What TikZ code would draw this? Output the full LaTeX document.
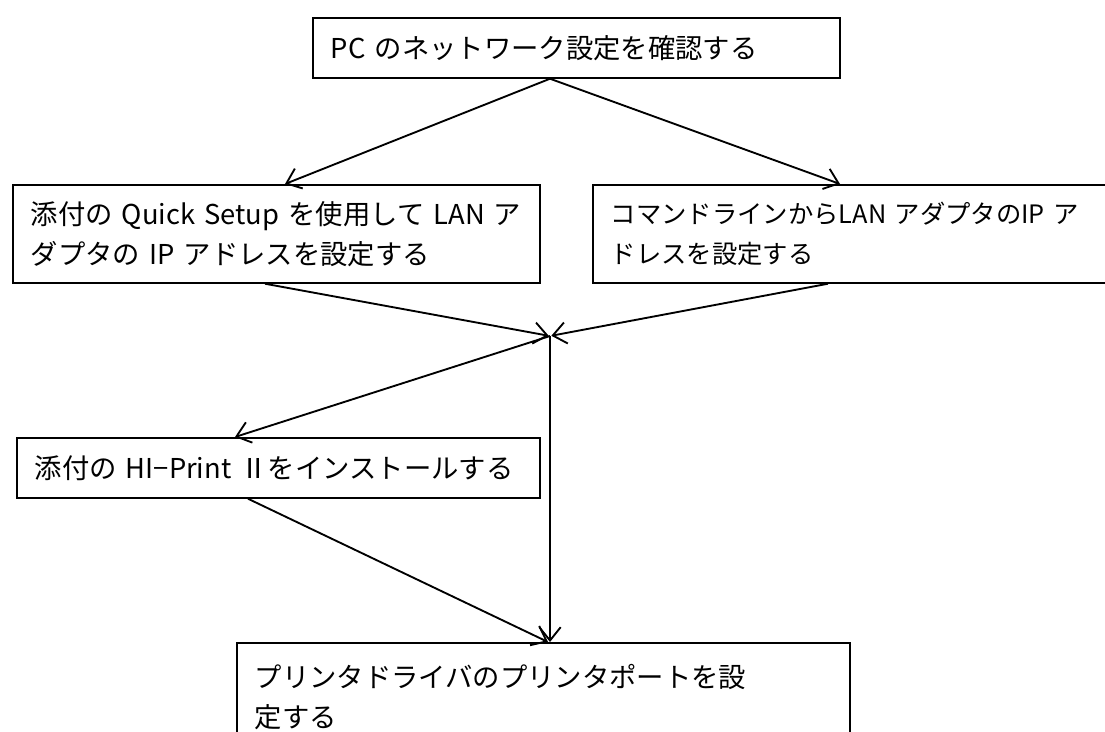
\documentclass[tikz,border=0pt]{standalone}
\usepackage{fontspec}
\setmainfont{Noto Sans CJK JP}
\usetikzlibrary{arrows.meta}
\hbadness=10000 \hfuzz=200pt
\begin{document}
\begin{tikzpicture}[x=0.75pt,y=-0.75pt,
  flowbox/.style={draw,line width=1.3pt,anchor=north west,align=left,
    inner xsep={18*0.75pt},inner ysep=0pt,font=\fontsize{20.5pt}{30pt}\selectfont},
  conn/.style={line width=1.4pt,-{Straight Barb[length=10pt,width=16pt,line width=1.4pt]}}]
\useasboundingbox (0,0) rectangle (1105,731);
\node[flowbox,text width={(527-36)*0.75pt},minimum height={60*0.75pt}] (b1) at (312,17) {\mbox{PC のネットワーク設定を確認する}};
\node[flowbox,text width={(527-36)*0.75pt},minimum height={98*0.75pt}] (b2) at (12,184) {\mbox{添付の Quick Setup を使用して LAN ア}\\\mbox{ダプタの IP アドレスを設定する}};
\node[flowbox,text width={(520-36)*0.75pt},minimum height={98*0.75pt},font=\fontsize{19pt}{30pt}\selectfont] (b3) at (592,184) {\mbox{コマンドラインからLAN アダプタのIP ア}\\\mbox{ドレスを設定する}};
\node[flowbox,text width={(523-36)*0.75pt},minimum height={60*0.75pt}] (b4) at (16,437) {\mbox{添付の HI−Print Ⅱをインストールする}};
\node[flowbox,text width={(613-36)*0.75pt},minimum height={108*0.75pt}] (b5) at (236,642) {\mbox{プリンタドライバのプリンタポートを設}\\\mbox{定する}};
\coordinate (m) at (550,336);
\coordinate (top) at ([xshift={238*0.75pt}]b1.south west);
\draw[conn] (top) -- ([xshift={273*0.75pt}]b2.north west);
\draw[conn] (top) -- ([xshift={248*0.75pt}]b3.north west);
\draw[conn,shorten >=1pt] ([xshift={253*0.75pt}]b2.south west) -- (m);
\draw[conn,shorten >=1pt] ([xshift={236*0.75pt}]b3.south west) -- (m);
\draw[conn] (m) -- ([xshift={219*0.75pt}]b4.north west);
\draw[conn] (m) -- ([xshift={314*0.75pt}]b5.north west);
\draw[conn] ([xshift={232*0.75pt}]b4.south west) -- ([xshift={312*0.75pt}]b5.north west);
\end{tikzpicture}
\end{document}
